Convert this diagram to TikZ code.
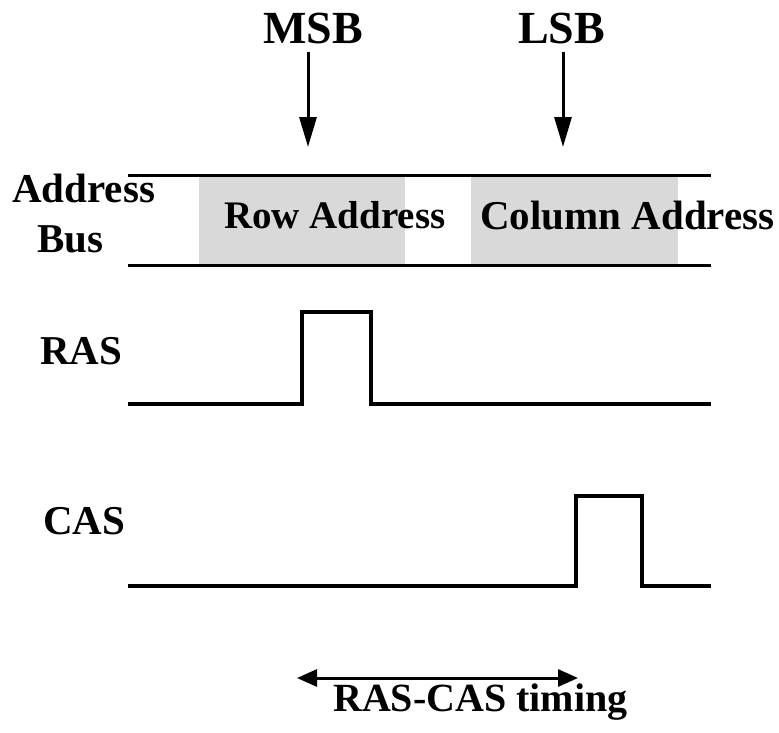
\documentclass[tikz,border=0pt]{standalone}
\usepackage{fontspec}
\setmainfont{Liberation Serif}
\usetikzlibrary{arrows.meta}
\begin{document}
\begin{tikzpicture}[x=1pt,y=-1pt,
  lbl/.style={inner sep=0pt,anchor=base west,font=\fontsize{41}{41}\selectfont\bfseries},
  biglbl/.style={inner sep=0pt,anchor=base west,font=\fontsize{46}{46}\selectfont\bfseries},
  busline/.style={line width=3pt},
  sigline/.style={line width=3.5pt,line join=miter},
  field/.style={fill=black!15,draw=none},
  pointer/.style={line width=3pt,-{Triangle[length=30pt,width=17pt]}},
  span/.style={line width=3pt,{Triangle[length=20pt,width=17pt]}-{Triangle[length=20pt,width=17pt]}}]
\useasboundingbox (0,0) rectangle (779,732);

% shaded address fields
\fill[field] (199,176) rectangle (405,264);
\fill[field] (471,176) rectangle (678,264);

% address bus boundaries
\draw[busline] (128,175) -- (711,175);
\draw[busline] (128,265) -- (711,265);

% field labels
\node[lbl,font=\fontsize{39}{39}\selectfont\bfseries] (row) at (224,228) {Row Address};
\node[lbl] (col) at (480,229) {Column Address};

% signal names
\node[lbl] (addr) at (12,202) {Address};
\node[lbl] (bus) at (37,252) {Bus};
\node[lbl] (ras) at (40,364) {RAS};
\node[lbl] (cas) at (43,534) {CAS};

% bit order markers
\node[biglbl] (msb) at (263,43) {MSB};
\node[biglbl] (lsb) at (518,43) {LSB};
\coordinate (msbtip) at (308,147);
\coordinate (lsbtip) at (563,147);
\draw[pointer] (msb.south -| msbtip) ++(0,8) -- (msbtip);
\draw[pointer] (lsb.south -| lsbtip) ++(0,8) -- (lsbtip);

% RAS strobe
\draw[sigline] (128,404) -- (302,404) -- (302,312) -- (371,312) -- (371,404) -- (711,404);
% CAS strobe
\draw[sigline] (128,586) -- (576,586) -- (576,496) -- (642,496) -- (642,586) -- (711,586);

% RAS-to-CAS delay
\coordinate (tl) at (297,678);
\coordinate (tr) at (578,678);
\draw[span] (tl) -- (tr);
\node[lbl,font=\fontsize{40}{40}\selectfont\bfseries] (timing) at (333,711) {RAS-CAS timing};
\end{tikzpicture}
\end{document}
